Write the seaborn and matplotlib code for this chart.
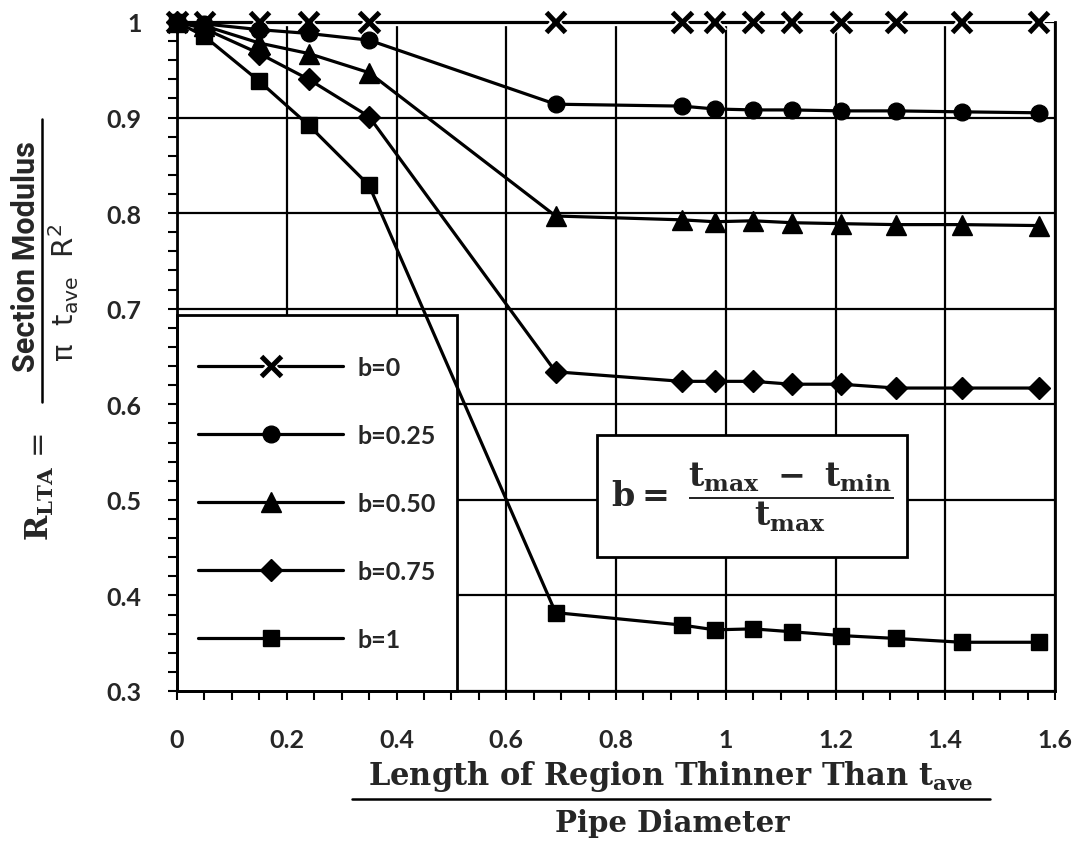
import numpy as np
import pandas as pd
import matplotlib
matplotlib.use("Agg")
import matplotlib.pyplot as plt
import matplotlib.patheffects as pe
import seaborn as sns
from matplotlib.patches import Rectangle
from matplotlib.lines import Line2D
from matplotlib.ticker import MultipleLocator

# ---------------- data ----------------
x_len = [0.0, 0.05, 0.15, 0.24, 0.35, 0.69, 0.92, 0.98, 1.05, 1.12, 1.21, 1.31, 1.43, 1.57]
r_b0 = [1.0, 1.0, 1.0, 1.0, 1.0, 1.0, 1.0, 1.0, 1.0, 1.0, 1.0, 1.0, 1.0, 1.0]
r_b025 = [1.0, 0.998, 0.992, 0.988, 0.981, 0.914, 0.912, 0.909, 0.908, 0.908, 0.907, 0.907, 0.906, 0.905]
r_b050 = [1.0, 0.996, 0.978, 0.967, 0.947, 0.797, 0.793, 0.791, 0.792, 0.790, 0.789, 0.788, 0.788, 0.787]
r_b075 = [1.0, 0.993, 0.967, 0.940, 0.901, 0.634, 0.624, 0.624, 0.624, 0.621, 0.621, 0.617, 0.617, 0.617]
r_b1 = [1.0, 0.985, 0.938, 0.892, 0.829, 0.382, 0.369, 0.364, 0.365, 0.362, 0.358, 0.355, 0.351, 0.351]
series_labels = ["b=0", "b=0.25", "b=0.50", "b=0.75", "b=1"]

x_ticks = [0, 0.2, 0.4, 0.6, 0.8, 1.0, 1.2, 1.4, 1.6]
x_tick_labels = ["0", "0.2", "0.4", "0.6", "0.8", "1", "1.2", "1.4", "1.6"]
y_ticks = [0.3, 0.4, 0.5, 0.6, 0.7, 0.8, 0.9, 1.0]
y_tick_labels = ["0.3", "0.4", "0.5", "0.6", "0.7", "0.8", "0.9", "1"]

# ---------------- style ----------------
sns.set_theme(style="ticks")
plt.rcParams["font.family"] = ["Lato", "DejaVu Sans"]
plt.rcParams["mathtext.fontset"] = "custom"
plt.rcParams["mathtext.rm"] = "DejaVu Serif:bold"
plt.rcParams["mathtext.bf"] = "DejaVu Serif:bold"
plt.rcParams["mathtext.it"] = "DejaVu Serif:bold"
plt.rcParams["mathtext.sf"] = "DejaVu Sans"

W, H = 1082, 845
fig = plt.figure(figsize=(W / 100, H / 100), dpi=100)
fig.patch.set_facecolor("white")

def fx(px):
    return px / W

def fy(py):
    return 1 - py / H

ax = fig.add_axes([fx(177), fy(692), (1055 - 177) / W, (692 - 23) / H])
ax.set_facecolor("white")

styles = [
    dict(marker="x", markersize=14, markeredgewidth=3.6,
         path_effects=[pe.withStroke(linewidth=6, foreground="white")]),
    dict(marker="o", markersize=12, markeredgewidth=1),
    dict(marker="^", markersize=14, markeredgewidth=1),
    dict(marker="D", markersize=11, markeredgewidth=1),
    dict(marker="s", markersize=11, markeredgewidth=1),
]
all_vals = [r_b0, r_b025, r_b050, r_b075, r_b1]

for lab, vals, st in zip(series_labels, all_vals, styles):
    sns.lineplot(x=x_len, y=vals, ax=ax, color="black", linewidth=2.3,
                 markerfacecolor="black", markeredgecolor="black",
                 estimator=None, sort=False, label=lab, clip_on=False,
                 zorder=3, **st)

ax.set_xlim(0, 1.6)
ax.set_ylim(0.3, 1.0)
ax.set_xticks(x_ticks)
ax.set_xticklabels(x_tick_labels, fontweight="bold")
ax.set_yticks(y_ticks)
ax.set_yticklabels(y_tick_labels, fontweight="bold")
ax.xaxis.set_minor_locator(MultipleLocator(0.05))
ax.yaxis.set_minor_locator(MultipleLocator(0.02))
ax.tick_params(axis="both", which="both", direction="out", length=6.5,
               width=1.5, color="black")
ax.tick_params(axis="x", which="major", pad=20, labelsize=18)
ax.tick_params(axis="y", which="major", pad=19, labelsize=18)
ax.set_axisbelow(True)
ax.grid(True, which="major", color="black", linewidth=1.6)
ax.spines["top"].set_visible(False)
for s in ["left", "right", "bottom"]:
    ax.spines[s].set_linewidth(2)
    ax.spines[s].set_color("black")
ax.set_xlabel("")
ax.set_ylabel("")

# legend box
ax.add_patch(Rectangle((0, 0.3), 0.51, 0.393, facecolor="white",
                       edgecolor="black", linewidth=2, zorder=1.5,
                       transform=ax.transData, clip_on=False))
handles, labels = ax.get_legend_handles_labels()
leg = ax.legend(handles, labels, loc="center", bbox_to_anchor=(0.255, 0.4965),
                bbox_transform=ax.transData, frameon=False,
                prop={"size": 18, "weight": "bold", "family": ["Lato", "DejaVu Sans"]},
                handlelength=5.8, handletextpad=0.55, labelspacing=1.8,
                numpoints=1)
leg.set_zorder(5)

# formula box
ax.add_patch(Rectangle((0.765, 0.44), 0.565, 0.128, facecolor="white",
                       edgecolor="black", linewidth=2, zorder=1.5,
                       transform=ax.transData))
ax.text(1.0475, 0.504, r"$\mathbf{b =\ \dfrac{t_{max}\ -\ t_{min}}{t_{max}}}$",
        ha="center", va="center", fontsize=24, zorder=5,
        math_fontfamily="custom")

# y label pieces
fig.text(fx(40), fy(487), r"$\mathrm{R_{LTA}}$ =", rotation=90,
         ha="center", va="center", fontsize=22, math_fontfamily="custom",
         family=["DejaVu Sans"])
fig.add_artist(Line2D([fx(42), fx(42)], [fy(120), fy(403)], color="black",
                      linewidth=1.8, transform=fig.transFigure))
fig.text(fx(26), fy(257), "Section Modulus", rotation=90, ha="center",
         va="center", fontsize=22, family=["Roboto", "DejaVu Sans"],
         weight="bold")
fig.text(fx(64), fy(293), r"$\mathrm{\pi\ \ t_{ave}\ \ R^2}$", rotation=90,
         ha="center", va="center", fontsize=21, math_fontfamily="dejavusans",
         family=["DejaVu Sans"])

# x label pieces
fig.text(fx(671), fy(777), r"Length of Region Thinner Than $t_{ave}$",
         ha="center", va="center", fontsize=22,
         family=["DejaVu Serif"], weight="bold", math_fontfamily="custom")
fig.add_artist(Line2D([fx(352), fx(990)], [fy(800), fy(800)], color="black",
                      linewidth=1.8, transform=fig.transFigure))
fig.text(fx(672), fy(824), "Pipe Diameter", ha="center", va="center",
         fontsize=21, family=["DejaVu Serif"], weight="bold")

fig.savefig("out.png", dpi=100, facecolor="white")
